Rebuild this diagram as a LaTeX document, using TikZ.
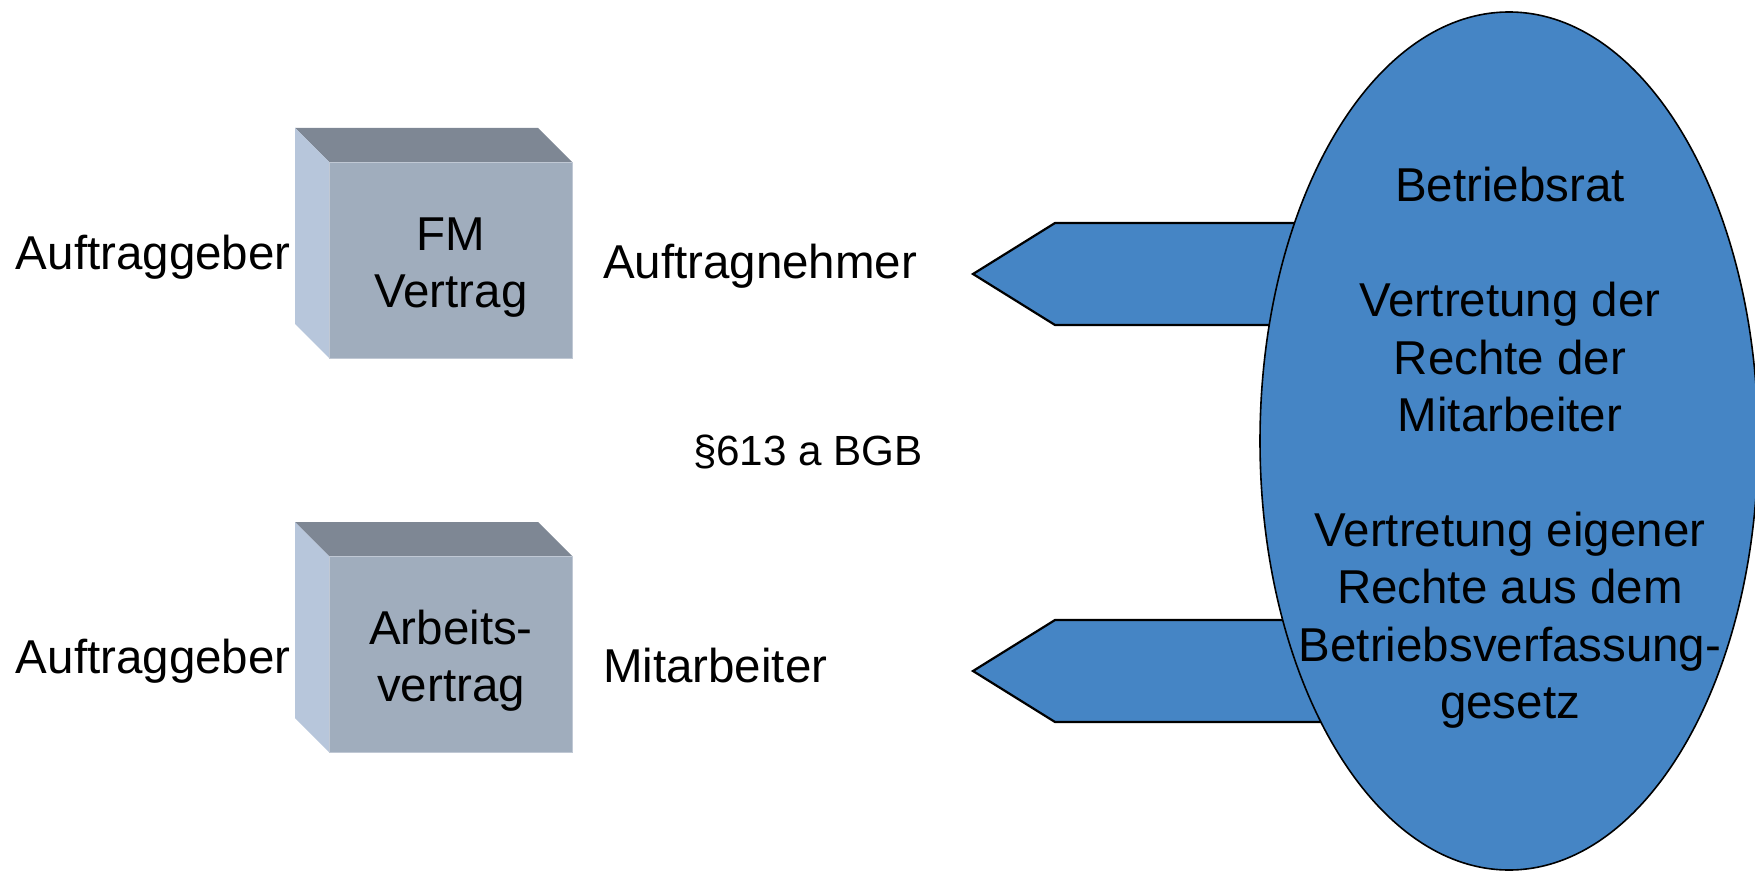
\documentclass[tikz,border=0pt]{standalone}
\usepackage{fontspec}
\setmainfont{Liberation Sans}
\usetikzlibrary{shapes.geometric}
\definecolor{ovalblue}{RGB}{69,133,197}
\definecolor{boxtop}{RGB}{126,135,148}
\definecolor{boxfront}{RGB}{160,173,189}
\definecolor{boxside}{RGB}{183,198,219}
\definecolor{boxedge}{RGB}{192,200,212}
\begin{document}
\begin{tikzpicture}[x=1pt,y=-1pt,
  lbl/.style={inner sep=0pt, outer sep=0pt, font=\fontsize{47.5}{57.45}\selectfont},
  smalllbl/.style={inner sep=0pt, outer sep=0pt, font=\fontsize{42.2}{50.6}\selectfont},
  blockarrow/.style={draw=black, line width=2.2pt, fill=ovalblue, line join=miter},
  oval/.style={ellipse, draw=black, line width=1.6pt, fill=ovalblue, inner sep=0pt,
               minimum width=498pt, minimum height=858pt},
  topface/.style={fill=boxtop},
  sideface/.style={fill=boxside},
  frontface/.style={fill=boxfront, draw=boxedge, line width=1pt, inner sep=0pt,
                    minimum width=243pt, minimum height=196pt, anchor=north west}]
\useasboundingbox (0,0) rectangle (1755,872);

% upper box (FM Vertrag)
\fill[topface] (295,128) -- (538,128) -- (572,162) -- (329,162) -- cycle;
\fill[sideface] (295,128) -- (329,162) -- (329,358) -- (295,324) -- cycle;
\node[frontface] (fmbox) at (329,162) {};

% lower box (Arbeitsvertrag)
\fill[topface] (295,522) -- (538,522) -- (572,556) -- (329,556) -- cycle;
\fill[sideface] (295,522) -- (329,556) -- (329,752) -- (295,718) -- cycle;
\node[frontface] (avbox) at (329,556) {};

% block arrows
\coordinate (tipA) at (973,274);
\coordinate (tipB) at (973,671);
\draw[blockarrow] (1400,223) -- (1055,223) -- (tipA) -- (1055,325) -- (1400,325) -- cycle;
\draw[blockarrow] (1400,620) -- (1055,620) -- (tipB) -- (1055,722) -- (1400,722) -- cycle;

% Betriebsrat oval
\node[oval] (br) at (1509,441) {};

% texts left
\node[lbl, anchor=base west] (ag1) at (16,269) {Auftraggeber};
\node[lbl, anchor=base] (fm1) at (451,250) {FM};
\node[lbl, anchor=base] (fm2) at (451,307) {Vertrag};
\node[lbl, anchor=base west] (an) at (603,278) {Auftragnehmer};
\node[smalllbl, anchor=base west] (par) at (693,465) {§613 a BGB};
\node[lbl, anchor=base west] (ag2) at (16,673) {Auftraggeber};
\node[lbl, anchor=base] (av1) at (451,644) {Arbeits-};
\node[lbl, anchor=base] (av2) at (451,701) {vertrag};
\node[lbl, anchor=base west] (ma) at (603,682) {Mitarbeiter};

% texts in oval
\node[lbl, anchor=base] (t1) at (1510,201.7) {Betriebsrat};
\node[lbl, anchor=base] (t2) at (1510,316.6) {Vertretung der};
\node[lbl, anchor=base] (t3) at (1510,374.05) {Rechte der};
\node[lbl, anchor=base] (t4) at (1510,431.5) {Mitarbeiter};
\node[lbl, anchor=base] (t5) at (1510,546.4) {Vertretung eigener};
\node[lbl, anchor=base] (t6) at (1510,603.85) {Rechte aus dem};
\node[lbl, anchor=base] (t7) at (1510,661.3) {Betriebsverfassung-};
\node[lbl, anchor=base] (t8) at (1510,718.75) {gesetz};
\end{tikzpicture}
\end{document}
